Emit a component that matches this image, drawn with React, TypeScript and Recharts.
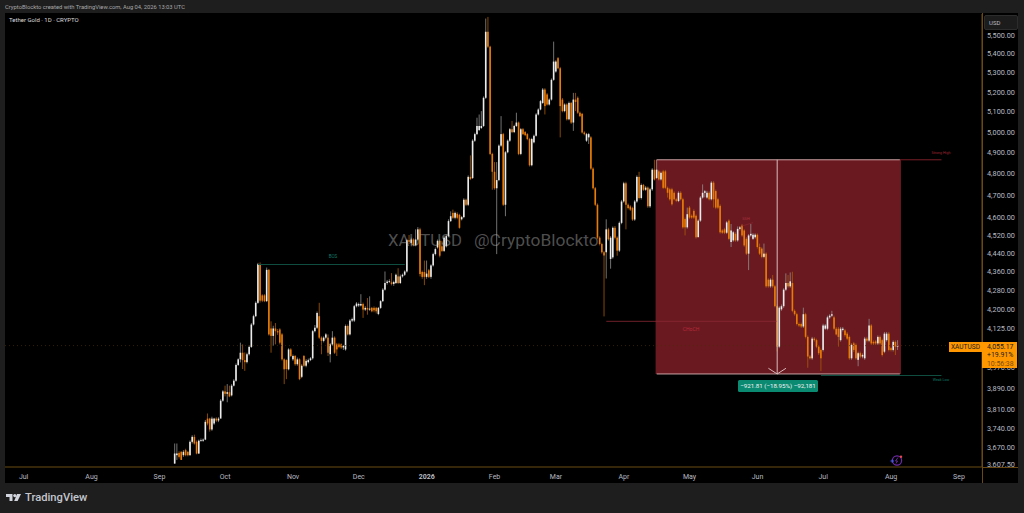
import { Bar, ComposedChart, ReferenceArea, ReferenceLine, XAxis, YAxis } from "recharts";

// one candle per day, first candle is 8 Sep 2025, last is 4 Aug 2026
const opens = [
  3612,3642,3650,3654,3642,3660,3654,3642,3690,3708,
  3690,3648,3694,3694,3698,3775,3775,3735,3757,3775,
  3768,3775,3842,3877,3868,3874,3862,3899,3918,3979,
  4001,4027,3998,3990,4021,4050,4140,4174,4229,4392,
  4260,4260,4236,4368,4124,4094,4124,4113,4120,4100,
  4001,3998,3962,4040,4001,4014,3982,4001,3933,4014,
  3976,3990,3998,4005,4113,4127,4174,4087,4074,4087,
  4087,4021,4060,4087,4060,4060,4060,4048,4040,4134,
  4100,4156,4156,4215,4218,4218,4224,4201,4208,4201,
  4208,4208,4208,4183,4208,4236,4284,4312,4318,4315,
  4308,4312,4340,4312,4340,4347,4361,4497,4485,4500,
  4475,4500,4545,4359,4359,4338,4366,4338,4387,4436,
  4465,4494,4470,4450,4470,4515,4582,4619,4597,4615,
  4610,4590,4600,4679,4656,4785,4780,4958,4990,5010,
  5020,5030,5171,5517,5437,4894,4809,4732,4770,4934,
  4990,4656,4902,4958,5014,5000,5030,5047,4894,5014,
  5000,4990,4966,4840,4950,4982,5087,5112,5145,5213,
  5188,5137,5162,5263,5306,5376,5323,5162,5104,5137,
  5063,5145,5047,5162,5171,5096,5090,4998,4958,4974,
  4974,4824,4732,4656,4508,4480,4444,4444,4545,4415,
  4422,4552,4508,4451,4574,4671,4755,4656,4648,4641,
  4589,4671,4785,4687,4747,4725,4735,4649,4727,4819,
  4780,4811,4773,4811,4811,4734,4727,4727,4711,4681,
  4673,4711,4681,4591,4554,4643,4606,4628,4606,4510,
  4584,4689,4711,4689,4711,4681,4758,4719,4681,4651,
  4540,4545,4530,4584,4489,4496,4525,4496,4547,4562,
  4540,4503,4438,4518,4503,4510,4521,4467,4460,4424,
  4438,4326,4298,4326,4298,4215,4051,4202,4215,4284,
  4312,4298,4312,4196,4182,4142,4142,4132,4182,4090,
  4012,4005,4083,4077,4051,4038,4038,4123,4123,4169,
  4176,4169,4123,4123,4077,4118,4116,4103,4090,4005,
  4064,4058,3999,4025,4012,4005,4083,4075,4136,4070,
  4072,4064,4090,4077,4031,4077,4103,4045,4038,4070,4051,
];
const highs = [
  3684,3684,3656,3656,3660,3665,3656,3695,3714,3716,
  3695,3698,3702,3702,3770,3794,3778,3782,3778,3780,
  3780,3848,3882,3899,3905,3899,3905,3924,3985,4005,
  4067,4060,4028,4027,4056,4146,4180,4235,4398,4400,
  4265,4265,4378,4372,4153,4135,4146,4122,4125,4105,
  4005,4001,4045,4045,4020,4018,4008,4005,3982,4018,
  4002,4004,4010,4118,4138,4193,4229,4092,4092,4105,
  4100,4066,4113,4092,4066,4066,4064,4058,4140,4140,
  4162,4168,4220,4232,4230,4265,4230,4215,4249,4256,
  4212,4214,4212,4212,4240,4290,4361,4325,4328,4354,
  4322,4352,4375,4348,4352,4366,4503,4520,4508,4505,
  4545,4555,4552,4365,4408,4408,4372,4392,4442,4465,
  4500,4500,4494,4515,4522,4590,4626,4634,4625,4622,
  4615,4605,4686,4684,4792,4887,4965,4997,5071,5087,
  5104,5178,5589,5598,5442,4900,4855,4855,4940,5079,
  4996,4908,4964,5020,5055,5036,5096,5052,5020,5020,
  5005,4995,4972,4972,4988,5094,5118,5160,5221,5220,
  5195,5168,5270,5464,5365,5382,5330,5170,5143,5143,
  5152,5150,5196,5196,5178,5102,5095,5004,4996,4996,
  4980,4830,4738,4662,4514,4486,4450,4590,4552,4515,
  4558,4560,4514,4580,4678,4762,4762,4662,4654,4647,
  4678,4792,4809,4754,4752,4742,4740,4734,4826,4866,
  4866,4818,4810,4818,4818,4740,4734,4734,4718,4688,
  4718,4718,4688,4598,4643,4650,4612,4635,4612,4590,
  4696,4750,4724,4720,4718,4765,4765,4726,4688,4658,
  4546,4552,4582,4590,4569,4538,4532,4558,4560,4569,
  4546,4510,4524,4569,4528,4527,4527,4482,4466,4482,
  4444,4332,4332,4346,4304,4222,4215,4222,4290,4353,
  4346,4357,4360,4202,4188,4148,4148,4209,4188,4096,
  4018,4090,4089,4083,4057,4044,4143,4142,4176,4182,
  4196,4176,4130,4130,4130,4130,4122,4110,4096,4064,
  4070,4064,4031,4031,4024,4090,4090,4163,4142,4076,
  4078,4096,4096,4083,4110,4110,4110,4050,4076,4076,4077,
];
const lows = [
  3612,3625,3630,3625,3636,3638,3638,3640,3684,3680,
  3645,3646,3690,3690,3696,3750,3727,3730,3752,3762,
  3762,3781,3838,3858,3836,3855,3858,3896,3914,3975,
  3989,3963,3956,3985,4016,4046,4136,4170,4225,4230,
  4232,4232,4232,4095,4027,4054,4060,4098,4060,3996,
  3905,3924,3958,4010,3995,3976,3976,3920,3928,3972,
  3970,3985,3994,4000,4108,4122,4082,4021,4068,4080,
  4014,3989,4055,4022,4014,4045,4042,4038,4035,4096,
  4096,4150,4150,4210,4212,4214,4167,4195,4180,4196,
  4190,4190,4185,4178,4204,4232,4280,4305,4312,4302,
  4300,4308,4308,4308,4335,4342,4356,4480,4470,4470,
  4470,4495,4340,4330,4303,4330,4333,4330,4382,4430,
  4460,4422,4445,4445,4465,4510,4578,4592,4590,4590,
  4548,4585,4595,4650,4650,4770,4775,4952,4985,5005,
  5015,5025,5165,5430,4888,4725,4725,4436,4765,4928,
  4650,4604,4897,4952,4995,4995,5025,4888,4888,4985,
  4980,4960,4834,4835,4945,4978,5082,5108,5140,5087,
  5132,5132,5157,5258,5300,5318,4974,5098,5098,5057,
  5058,5040,5006,5104,5090,5074,4993,4984,4952,4942,
  4818,4726,4650,4502,4474,4438,4173,4331,4495,4373,
  4416,4500,4429,4445,4568,4665,4545,4635,4628,4583,
  4583,4665,4680,4680,4720,4720,4642,4642,4720,4768,
  4775,4768,4768,4728,4728,4689,4675,4652,4676,4668,
  4668,4676,4548,4518,4548,4592,4592,4592,4504,4513,
  4578,4684,4690,4684,4676,4676,4643,4636,4636,4526,
  4525,4524,4524,4497,4467,4490,4490,4490,4540,4512,
  4468,4432,4367,4512,4498,4504,4460,4432,4418,4418,
  4292,4292,4292,4292,4210,4032,4045,4196,4208,4278,
  4292,4292,4190,4176,4136,4130,4126,4126,4084,3968,
  4000,3999,4071,4045,4018,3955,4032,4118,4117,4163,
  4170,4117,4096,4051,4071,4112,4090,4077,3999,3999,
  4030,3999,3974,4005,4005,3999,4068,4069,4058,4058,
  4058,4058,4058,4012,4025,4071,4032,4032,4032,4018,4038,
];
const closes = [
  3648,3648,3636,3625,3654,3642,3642,3690,3708,3684,
  3648,3694,3696,3698,3763,3757,3735,3775,3775,3768,
  3775,3842,3877,3868,3874,3858,3899,3918,3979,4001,
  4027,3998,3990,4021,4050,4140,4174,4229,4392,4238,
  4238,4236,4368,4100,4094,4124,4113,4108,4067,4001,
  3962,3963,4040,4014,4014,3982,4001,3924,3976,3976,
  3995,3998,4005,4113,4127,4187,4087,4074,4087,4100,
  4027,4060,4087,4027,4040,4050,4048,4054,4134,4100,
  4156,4162,4215,4226,4224,4224,4201,4208,4201,4205,
  4194,4198,4194,4208,4236,4284,4312,4318,4320,4308,
  4316,4347,4312,4340,4347,4361,4497,4490,4500,4475,
  4500,4545,4350,4338,4338,4352,4338,4387,4436,4458,
  4494,4429,4450,4508,4515,4582,4604,4597,4619,4597,
  4552,4600,4679,4656,4785,4775,4958,4990,5030,5030,
  5030,5171,5517,5437,4894,4809,4732,4770,4934,4990,
  4656,4902,4958,5014,5000,5030,5047,4894,5014,4990,
  4985,4966,4840,4966,4982,5087,5112,5154,5213,5129,
  5137,5162,5263,5358,5358,5323,5129,5104,5137,5063,
  5145,5047,5162,5150,5096,5079,4998,4990,4990,4990,
  4824,4732,4656,4508,4480,4444,4430,4545,4501,4508,
  4552,4508,4451,4574,4671,4755,4656,4641,4634,4589,
  4671,4785,4687,4747,4725,4735,4649,4727,4819,4773,
  4819,4773,4804,4734,4734,4711,4681,4658,4681,4674,
  4711,4681,4554,4554,4613,4598,4598,4598,4510,4584,
  4689,4711,4718,4711,4681,4758,4681,4643,4643,4532,
  4530,4530,4576,4503,4540,4532,4496,4547,4554,4518,
  4474,4438,4518,4525,4521,4521,4467,4438,4424,4438,
  4298,4298,4326,4298,4215,4051,4209,4215,4284,4312,
  4298,4319,4196,4182,4142,4136,4132,4182,4090,4012,
  4005,4083,4077,4051,4025,4005,4136,4136,4169,4176,
  4182,4123,4100,4090,4123,4123,4097,4083,4005,4058,
  4038,4005,4025,4012,4018,4083,4075,4136,4064,4064,
  4064,4090,4064,4018,4103,4103,4038,4038,4070,4051,4055.17,
];

// day numbers count from 23 Jun 2025, the left edge of the time scale
const totalDays = 446;
const firstCandleDay = 77;
const monthDays = [8, 39, 70, 100, 131, 161, 192, 223, 251, 282, 312, 343, 373, 404, 435];
const monthLabels = ["Jul", "Aug", "Sep", "Oct", "Nov", "Dec", "2026", "Feb", "Mar", "Apr", "May", "Jun", "Jul", "Aug", "Sep"];
const priceTicks = [5500, 5400, 5300, 5200, 5100, 5000, 4900, 4800, 4700, 4600, 4520, 4440, 4360, 4280, 4200, 4125, 3970, 3890, 3810, 3740, 3670, 3607.5];

const lastPrice = 4055.17;
const boxTop = 4866;
const boxBottom = 3944;
const boxStartDay = 297;
const boxEndDay = 408;
const arrowDay = 352;

const chartData = Array.from({ length: totalDays }, (_, day) => {
  const i = day - firstCandleDay;
  if (i < 0 || i >= closes.length) return { day };
  return { day, open: opens[i], high: highs[i], low: lows[i], close: closes[i], range: [lows[i], highs[i]] };
});

const UP = "#ececec";
const DOWN = "#e97c08";

function Candle(props: any) {
  const { x, y, width, height, payload } = props;
  if (!payload || payload.high == null || !Number.isFinite(y)) return null;
  const logTop = Math.log(payload.high);
  const logSpan = logTop - Math.log(payload.low) || 1;
  const toY = (p: number) => y + (height * (logTop - Math.log(p))) / logSpan;
  const cx = x + width / 2;
  const up = payload.close >= payload.open;
  const color = up ? UP : DOWN;
  const bodyTop = toY(Math.max(payload.open, payload.close));
  const bodyBottom = toY(Math.min(payload.open, payload.close));
  return (
    <g>
      <line x1={cx} x2={cx} y1={y} y2={y + height} stroke={up ? "#8e8e8e" : "#a85a08"} strokeWidth={0.8} />
      <rect x={cx - 0.8} y={bodyTop} width={1.6} height={Math.max(bodyBottom - bodyTop, 0.8)} fill={color} />
    </g>
  );
}

function MonthTick({ x, y, payload }: any) {
  const label = monthLabels[monthDays.indexOf(payload.value)];
  return (
    <text x={x} y={y + 4} textAnchor="middle" fontSize={7} fill="#b8bbc2" fontWeight={label === "2026" ? 700 : 400} fontFamily="Roboto">
      {label}
    </text>
  );
}

function Note({ text, left, top, color, size }: { text: string; left: number; top: number; color: string; size: number }) {
  return (
    <div style={{ position: "absolute", left, top, transform: "translate(-50%, -50%)", color, fontSize: size, whiteSpace: "nowrap", lineHeight: 1 }}>
      {text}
    </div>
  );
}

const formatPrice = (v: number) => v.toLocaleString("en-US", { minimumFractionDigits: 2, maximumFractionDigits: 2 });

export default function App() {
  return (
    <div style={{ position: "fixed", left: 0, top: 0, width: 1024, height: 513, overflow: "hidden", background: "#1e1e1e", fontFamily: "Roboto, sans-serif" }}>
      <div style={{ position: "absolute", left: 5, top: 13, width: 1013, height: 470, background: "#000" }} />
      <div style={{ position: "absolute", left: 5, top: 4, color: "#a8a8a8", fontSize: 5.8, lineHeight: "7px", whiteSpace: "nowrap" }}>
        CryptoBlockto created with TradingView.com, Aug 04, 2026 13:03 UTC
      </div>

      <div style={{ position: "absolute", left: 0, top: 0 }}>
        <ComposedChart width={1024} height={513} data={chartData} margin={{ top: 14, right: 6, bottom: 30, left: 5 }} barCategoryGap={0}>
          <XAxis
            dataKey="day"
            type="category"
            ticks={monthDays}
            interval={0}
            height={16}
            tick={MonthTick}
            tickLine={false}
            axisLine={{ stroke: "#6a4a12" }}
          />
          <YAxis
            orientation="right"
            type="number"
            scale="log"
            domain={[3600, 5614]}
            allowDataOverflow
            ticks={priceTicks}
            interval={0}
            width={36}
            tickLine={false}
            tickSize={0}
            tickMargin={5}
            tickFormatter={formatPrice}
            tick={{ fontSize: 7.3, fill: "#b8bbc2", fontFamily: "Roboto" }}
            axisLine={{ stroke: "#6a4a12" }}
          />
          <ReferenceArea x1={boxStartDay} x2={boxEndDay} y1={boxBottom} y2={boxTop} fill="#6b1920" fillOpacity={1} stroke="none" />
          <ReferenceLine y={lastPrice} stroke="#4a2e06" strokeDasharray="1 3" strokeWidth={0.7} />
          <ReferenceLine segment={[{ x: 115, y: 4391 }, { x: 182, y: 4391 }]} stroke="#0e4d40" strokeWidth={1} />
          <ReferenceLine segment={[{ x: 274, y: 4153 }, { x: arrowDay, y: 4153 }]} stroke="#8c2a33" strokeWidth={0.8} />
          <ReferenceLine segment={[{ x: 336, y: 4560 }, { x: 341, y: 4575 }]} stroke="#8c2a33" strokeWidth={0.6} />
          <ReferenceLine segment={[{ x: boxEndDay, y: boxTop }, { x: 427, y: boxTop }]} stroke="#7a1f28" strokeWidth={1} />
          <ReferenceLine segment={[{ x: 372, y: 3938 }, { x: 427, y: 3938 }]} stroke="#0e4d40" strokeWidth={1} />
          <Bar dataKey="range" shape={Candle} isAnimationActive={false} />
          <ReferenceLine segment={[{ x: boxStartDay, y: boxTop }, { x: boxEndDay, y: boxTop }]} stroke="#c9a2a2" strokeWidth={1} />
          <ReferenceLine segment={[{ x: boxStartDay, y: boxBottom }, { x: boxEndDay, y: boxBottom }]} stroke="#c9a2a2" strokeWidth={1} />
          <ReferenceLine segment={[{ x: arrowDay, y: boxTop }, { x: arrowDay, y: boxBottom }]} stroke="#d9bcbc" strokeWidth={1} />
          <ReferenceLine segment={[{ x: arrowDay - 4, y: 3966 }, { x: arrowDay, y: boxBottom }]} stroke="#d9bcbc" strokeWidth={1} />
          <ReferenceLine segment={[{ x: arrowDay + 4, y: 3966 }, { x: arrowDay, y: boxBottom }]} stroke="#d9bcbc" strokeWidth={1} />
        </ComposedChart>
      </div>

      {/* frame bits that sit over the chart */}
      <div style={{ position: "absolute", left: 983, top: 468, width: 35, height: 15, background: "#000" }} />
      <div style={{ position: "absolute", left: 982, top: 467, width: 36, height: 1, background: "#6a4a12" }} />
      <div style={{ position: "absolute", left: 982, top: 13, width: 1, height: 470, background: "#6a4a12" }} />
      <div style={{ position: "absolute", left: 9, top: 16, color: "#dcdcdc", fontSize: 6, lineHeight: "8px", whiteSpace: "nowrap" }}>
        Tether Gold · 1D · CRYPTO
      </div>
      <div style={{ position: "absolute", left: 984, top: 15, width: 32, height: 13, background: "#1c1c1c", border: "1px solid #2c2c2c", borderRadius: 2, color: "#b8bbc2", fontSize: 6, lineHeight: "13px", textIndent: 4 }}>
        USD
      </div>

      <div style={{ position: "absolute", left: 388, top: 231, color: "rgba(190,190,190,0.42)", fontSize: 16.8, lineHeight: "19px", whiteSpace: "nowrap" }}>
        XAUTUSD
      </div>
      <div style={{ position: "absolute", left: 474, top: 231, color: "rgba(190,190,190,0.42)", fontSize: 17.4, lineHeight: "19px", whiteSpace: "nowrap" }}>
        @CryptoBlockto
      </div>

      <Note text="BOS" left={333} top={257} color="#0f7a66" size={4.5} />
      <Note text="CHoCH" left={691} top={329} color="#b52a3a" size={5} />
      <Note text="SSH" left={746} top={219} color="#a8303e" size={4} />
      <Note text="Strong High" left={941} top={154} color="#a32632" size={3.6} />
      <Note text="Weak Low" left={941} top={381} color="#0f7a66" size={3.6} />

      <div style={{ position: "absolute", left: 738, top: 380, width: 80, height: 12, background: "#0b8a72", borderRadius: 1.5, color: "#f2f2f2", fontSize: 6.2, lineHeight: "12px", textAlign: "center", whiteSpace: "nowrap" }}>
        −921.81 (−18.95%) −92,181
      </div>

      <div style={{ position: "absolute", left: 949, top: 342, width: 33, height: 10, background: "#ff9800", color: "#1a1a1a", fontSize: 6.6, lineHeight: "10px", textAlign: "center" }}>
        XAUTUSD
      </div>
      <div style={{ position: "absolute", left: 982, top: 342, width: 35, height: 26, background: "#ff9800", color: "#1a1a1a", fontSize: 6.9, lineHeight: "8.4px", paddingLeft: 5, paddingTop: 1, boxSizing: "border-box" }}>
        <div>4,055.17</div>
        <div>+19.91%</div>
        <div style={{ color: "#7a4a00" }}>10:56:38</div>
      </div>

      <svg width={20} height={16} style={{ position: "absolute", left: 888, top: 452 }}>
        <circle cx={9} cy={8.5} r={4.6} fill="none" stroke="#6d2aa8" strokeWidth={1.2} />
        <path d="M10 5.5 L7.5 9 L9.5 9 L8 11.5" fill="none" stroke="#7d35c0" strokeWidth={0.8} />
        <path d="M2.5 9 h3.5 M4.2 7.3 v3.5" stroke="#4a5cf0" strokeWidth={1} />
        <circle cx={13} cy={4.8} r={1.2} fill="#e5484d" />
      </svg>

      <svg width={16} height={10} style={{ position: "absolute", left: 6, top: 493 }}>
        <path d="M0 1 h6.5 v7 h-3 v-4 h-3.5 z" fill="#d1d4dc" />
        <circle cx={8.8} cy={2.6} r={1.6} fill="#d1d4dc" />
        <path d="M11 1 h4 L11.6 8 H8.2 z" fill="#d1d4dc" />
      </svg>
      <div style={{ position: "absolute", left: 25, top: 491, color: "#c4c7ce", fontSize: 11.2, lineHeight: "13px", fontWeight: 500, whiteSpace: "nowrap" }}>
        TradingView
      </div>
    </div>
  );
}
